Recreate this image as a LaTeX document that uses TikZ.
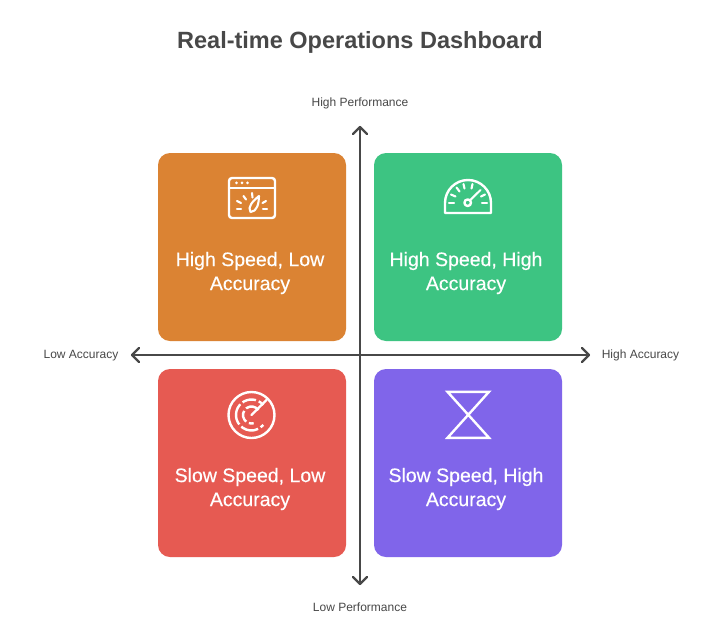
\documentclass[tikz,border=0pt]{standalone}
\usepackage{fontspec}
\setmainfont{Liberation Sans}
\newfontfamily\medfont[FakeBold=0.35]{Liberation Sans}
\usetikzlibrary{arrows.meta}
\definecolor{ink}{HTML}{484848}
\definecolor{orangebox}{HTML}{DB8333}
\definecolor{greenbox}{HTML}{3DC482}
\definecolor{redbox}{HTML}{E65A52}
\definecolor{purplebox}{HTML}{8065EA}
\tikzset{
  quadbox/.style={minimum width=188pt,minimum height=188pt,rounded corners=12pt,inner sep=0pt,draw=none},
  quadtext/.style={text=white,font=\medfont\fontsize{19.5}{24}\selectfont,align=center,inner sep=0pt},
  axislabel/.style={text=ink,font=\fontsize{12}{14}\selectfont,inner sep=0pt},
  axisline/.style={draw=ink,line width=2.2pt,line cap=round},
  axishead/.style={draw=ink,line width=2.2pt,line cap=round,line join=round},
  icon/.style={draw=white,line width=2.4pt,line cap=round,line join=round},
  thinicon/.style={draw=white,line width=2.1pt,line cap=round,line join=round}
}
\begin{document}
\begin{tikzpicture}[x=1pt,y=-1pt]
\useasboundingbox (0,0) rectangle (706,621);
\fill[white] (0,0) rectangle (706,621);
\node[text=ink,font=\bfseries\fontsize{23.5}{28}\selectfont,inner sep=0pt] (title) at (360,42) {Real-time Operations Dashboard};
% boxes
\node[quadbox,fill=orangebox] (hl) at (252,247) {};
\node[quadbox,fill=greenbox] (hh) at (468,247) {};
\node[quadbox,fill=redbox] (sl) at (252,463) {};
\node[quadbox,fill=purplebox] (sh) at (468,463) {};
\node[quadtext] (thl) at (250,273) {High Speed, Low\\Accuracy};
\node[quadtext] (thh) at (466,273) {High Speed, High\\Accuracy};
\node[quadtext] (tsl) at (250,489) {Slow Speed, Low\\Accuracy};
\node[quadtext] (tsh) at (466,489) {Slow Speed, High\\Accuracy};
% axes
\coordinate (top) at (360,127);
\coordinate (bottom) at (360,584);
\coordinate (left) at (132,355);
\coordinate (right) at (589,355);
\draw[axisline] (top) -- (bottom);
\draw[axisline] (left) -- (right);
\draw[axishead] ([shift={(-7,7)}]top) -- (top) -- ([shift={(7,7)}]top);
\draw[axishead] ([shift={(-7,-7)}]bottom) -- (bottom) -- ([shift={(7,-7)}]bottom);
\draw[axishead] ([shift={(7,-7)}]left) -- (left) -- ([shift={(7,7)}]left);
\draw[axishead] ([shift={(-7,-7)}]right) -- (right) -- ([shift={(-7,7)}]right);
\node[axislabel] (lt) at (360,103.5) {High Performance};
\node[axislabel] (lb) at (360,607.5) {Low Performance};
\node[axislabel] (ll) at (81,355.5) {Low Accuracy};
\node[axislabel] (lr) at (640.5,355.5) {High Accuracy};
% orange icon
\draw[icon,rounded corners=3pt] (229,178) rectangle (275,218);
\draw[icon] (229,188) -- (275,188);
\fill[white] (236.5,182.8) circle (1.5) (242,182.8) circle (1.5) (247.5,182.8) circle (1.5);
\draw[thinicon] (250.5,212) .. controls (247,207) and (253,201) .. (259,196) .. controls (259,203) and (257,212) .. (250.5,212);
\draw[thinicon] (237,209) -- (241,209);
\draw[thinicon] (237,201) -- (241,203);
\draw[thinicon] (243.5,196) -- (246,199.5);
\draw[thinicon] (252,193) -- (252.5,197.5);
\draw[thinicon] (266,201) -- (262.5,203);
\draw[thinicon] (263,209) -- (267,209);
% green icon
\draw[icon] (445,213) -- (491,213) -- (491,203) arc[start angle=0,end angle=-180,radius=23] -- cycle;
\draw[icon] (467.7,202.7) circle (3.3);
\draw[thinicon] (470.2,200.2) -- (480.5,190);
\draw[thinicon] (449,203) -- (454,203);
\draw[thinicon] (482,203) -- (487,203);
\draw[thinicon] (451,194.5) -- (455.5,196.5);
\draw[thinicon] (456.5,187.5) -- (459.5,191.5);
\draw[thinicon] (463.5,184) -- (464.5,188.5);
\draw[thinicon] (472.5,184) -- (471.5,188.5);
\draw[thinicon] (485,194.5) -- (481,196.5);
% red icon
\draw[icon] (251.5,415) circle (23);
\draw[icon,line cap=butt,dash pattern=on 6pt off 3pt on 14pt off 3pt on 22pt off 3pt on 18pt off 3pt] (251.5,415) ++(-40:15.5) arc[start angle=-40,end angle=-320,radius=15.5];
\draw[icon,line cap=butt,dash pattern=on 14pt off 3pt on 12pt off 3pt] (251.5,415) ++(-35:8.5) arc[start angle=-35,end angle=-285,radius=8.5];
\draw[icon] (251.5,415) -- (266.5,400);
% purple icon
\draw[icon,line join=miter,line cap=butt] (447.5,391.8) -- (489,391.8) -- (447.5,437.8) -- (489,437.8) -- cycle;
\end{tikzpicture}
\end{document}
